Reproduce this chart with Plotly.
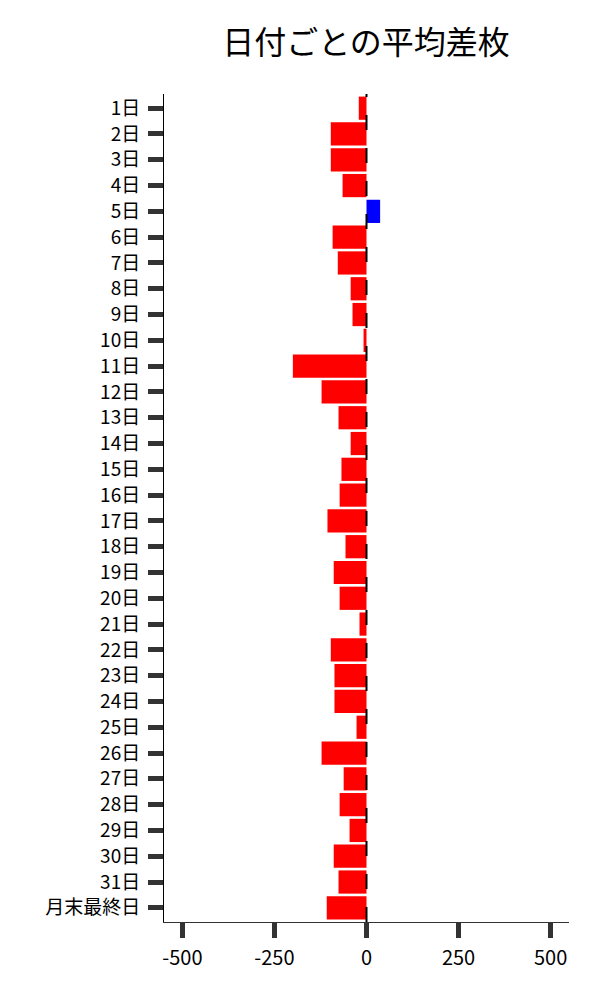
import plotly.graph_objects as go

FONT = 'Noto Sans CJK JP, Noto Sans, sans-serif'

days = [f'{i}日' for i in range(1, 32)] + ['月末最終日']
avg_diff = [-21, -97, -97, -65, 37, -92, -78, -43, -38, -8,
            -200, -122, -76, -43, -68, -73, -106, -57, -89, -73,
            -19, -97, -87, -87, -27, -122, -62, -73, -46, -89,
            -76, -108]
x_ticks = [-500, -250, 0, 250, 500]

colors = ['#0000FF' if v > 0 else '#FF0000' for v in avg_diff]

fig = go.Figure()
fig.add_trace(go.Bar(
    x=avg_diff, y=days, orientation='h',
    marker=dict(color=colors, line=dict(width=0)),
    width=0.9,
    showlegend=False,
))

# dashed zero line over the bars
fig.add_shape(type='line', xref='x', yref='paper', x0=0, x1=0, y0=0, y1=1,
              line=dict(color='black', width=2, dash='15px,18px'), layer='above')

fig.update_layout(
    width=592, height=992,
    paper_bgcolor='white', plot_bgcolor='white',
    title=dict(text='日付ごとの平均差枚', x=358 / 592, xanchor='center',
               y=1 - 35 / 992, yanchor='middle',
               font=dict(size=32, color='black', family=FONT)),
    margin=dict(l=156, r=31, t=86, b=78),
    font=dict(family=FONT, color='black'),
    bargap=0.1,
    xaxis=dict(range=[-550, 550], tickvals=x_ticks, ticktext=[str(v) for v in x_ticks],
               showgrid=False, zeroline=False, showline=True, linecolor='#333', linewidth=1,
               ticks='outside', ticklen=15, tickwidth=5, tickcolor='#333',
               ticklabelstandoff=3,
               tickfont=dict(size=20, color='black', family=FONT)),
    yaxis=dict(autorange=False, range=[len(days) - 0.45, -0.55], type='category',
               showgrid=False, zeroline=False, showline=True, linecolor='black', linewidth=1,
               ticks='outside', ticklen=15, tickwidth=5, tickcolor='#333',
               ticklabelstandoff=4,
               tickfont=dict(size=19, color='black', family=FONT)),
)

fig.write_html('out.html')
